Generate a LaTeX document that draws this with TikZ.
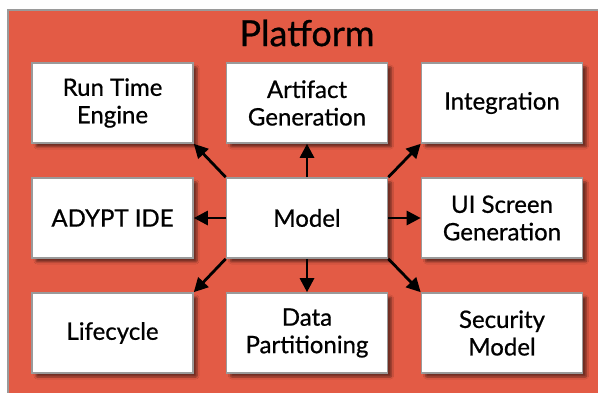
\documentclass[tikz,border=0pt]{standalone}
\usepackage{fontspec}
\setmainfont{Lato}
\newfontfamily\cardfont{Lato}[FakeBold=0.7]
\usetikzlibrary{arrows.meta,shadows.blur}
\definecolor{plat}{HTML}{E35B45}
\definecolor{edge}{HTML}{9A9A9A}
\tikzset{
  card/.style={draw=edge, line width=1.6pt, fill=white, minimum width=161pt, minimum height=80pt,
    inner sep=0pt, align=center, font=\cardfont\fontsize{24}{27.5}\selectfont,
    blur shadow={shadow xshift=4pt, shadow yshift=-4pt, shadow blur steps=6, shadow blur extra rounding=1pt, shadow opacity=50}},
  link/.style={line width=2.8pt, -{Triangle[length=14pt,width=14pt]}}
}
\begin{document}
\begin{tikzpicture}[x=1pt,y=1pt]
\useasboundingbox (0,0) rectangle (598,392);
\clip (0,0) rectangle (598,392);
\fill[white] (0,0) rectangle (598,392);
\draw[edge, line width=2pt, fill=plat] (8,382) rectangle (610,-10);
\node[font=\cardfont\fontsize{36}{40}\selectfont] (title) at (307,359) {Platform};
\node[card] (rte) at (112.5,289) {Run Time\\Engine};
\node[card] (art) at (307,289) {Artifact\\Generation};
\node[card] (int) at (502,289) {Integration};
\node[card] (ide) at (112.5,174) {ADYPT IDE};
\node[card] (mod) at (307,174) {Model};
\node[card] (ui) at (502,174) {UI Screen\\Generation};
\node[card] (life) at (112.5,59) {Lifecycle};
\node[card] (dp) at (307,59) {Data\\Partitioning};
\node[card] (sec) at (502,59) {Security\\Model};
\draw[link] (mod.north west) -- (rte.south east);
\draw[link] (mod.north) -- (art.south);
\draw[link] (mod.north east) -- (int.south west);
\draw[link] (mod.west) -- (ide.east);
\draw[link] (mod.east) -- (ui.west);
\draw[link] (mod.south west) -- (life.north east);
\draw[link] (mod.south) -- (dp.north);
\draw[link] (mod.south east) -- (sec.north west);
\end{tikzpicture}
\end{document}
